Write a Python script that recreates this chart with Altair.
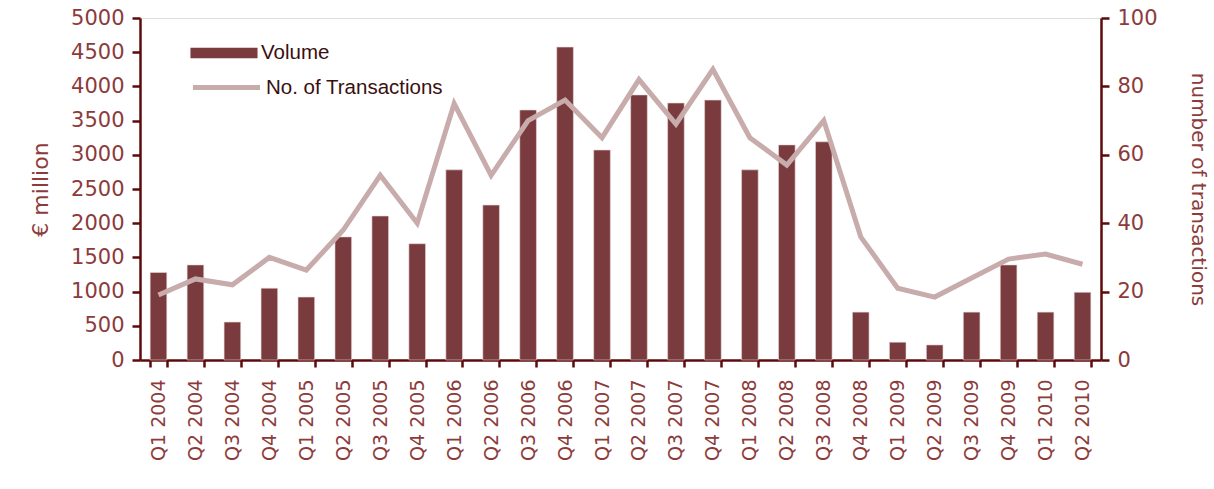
import altair as alt
import pandas as pd

quarters = ["Q1 2004","Q2 2004","Q3 2004","Q4 2004","Q1 2005","Q2 2005","Q3 2005","Q4 2005",
            "Q1 2006","Q2 2006","Q3 2006","Q4 2006","Q1 2007","Q2 2007","Q3 2007","Q4 2007",
            "Q1 2008","Q2 2008","Q3 2008","Q4 2008","Q1 2009","Q2 2009","Q3 2009","Q4 2009",
            "Q1 2010","Q2 2010"]
volume = [1280, 1390, 555, 1050, 920, 1800, 2105, 1700, 2780, 2265, 3655, 4575, 3070, 3875,
          3757, 3800, 2780, 3145, 3190, 700, 260, 220, 700, 1390, 700, 990]
transactions = [19, 23.7, 22, 30, 26.3, 38, 54, 40, 75, 54, 70, 76, 65, 82, 69, 85, 65, 57, 70,
                36, 21, 18.4, 24, 29.5, 31, 28]

df = pd.DataFrame({"q": quarters, "vol": volume, "tx": transactions})

AX = "#5C0A0A"
TXT = "#8C3B3B"
FONT = "DejaVu Sans"

xenc = alt.X("q:N", sort=quarters, title=None,
             scale=alt.Scale(paddingInner=0.55, paddingOuter=0.275),
             axis=alt.Axis(labelAngle=-90, labelFontSize=19, labelColor=TXT, labelFont=FONT,
                           domainColor=AX, domainWidth=2.5, tickColor=AX, tickWidth=2.5,
                           tickSize=7, tickBand="extent", labelPadding=12, labelBaseline="middle"))

bars = alt.Chart(df).mark_bar(stroke="#E8D8D8", strokeWidth=0.6).encode(
    x=xenc,
    y=alt.Y("vol:Q", title="€ million",
            scale=alt.Scale(domain=[0, 5000], nice=False),
            axis=alt.Axis(values=list(range(0, 5001, 500)), format="d", grid=False,
                          labelFontSize=21, labelColor=TXT, labelFont=FONT, titleColor=TXT,
                          titleFont=FONT, titleFontSize=22, titleFontWeight="normal",
                          titlePadding=18, domainColor=AX, domainWidth=2.5, tickColor=AX,
                          tickWidth=2.5, tickSize=8, labelPadding=8)),
    fill=alt.Fill("s1:N", scale=alt.Scale(domain=["Volume"], range=["#7A3B3E"]),
                  legend=alt.Legend(title=None, orient="none", legendX=50, legendY=1,
                                    symbolType="M-1,-0.16H1V0.16H-1Z", symbolSize=4500,
                                    symbolStrokeWidth=0, labelFontSize=20.5, labelLimit=0,
                                    labelFont="Liberation Sans", labelColor="#3A1010",
                                    labelOffset=3))
).transform_calculate(s1="'Volume'")

line = alt.Chart(df).mark_line(strokeWidth=5, color="#C8ABAB").encode(
    x=alt.X("q:N", sort=quarters),
    y=alt.Y("tx:Q", title="number of transactions",
            scale=alt.Scale(domain=[0, 100], nice=False),
            axis=alt.Axis(orient="right", values=list(range(0, 101, 20)), grid=False,
                          labelFontSize=21, labelColor=TXT, labelFont=FONT, titleColor=TXT,
                          titleFont=FONT, titleFontSize=20, titleFontWeight="normal",
                          titlePadding=30, domainColor=AX, domainWidth=2.5, tickColor=AX,
                          tickWidth=2.5, tickSize=8, labelPadding=8)),
    stroke=alt.Stroke("s2:N", scale=alt.Scale(domain=["No. of Transactions"], range=["#C8ABAB"]),
                      legend=alt.Legend(title=None, orient="none", legendX=50, legendY=33,
                                        symbolType="stroke", symbolSize=4500, symbolStrokeWidth=5,
                                        labelFontSize=20.5, labelLimit=0, labelFont="Liberation Sans",
                                        labelColor="#3A1010", labelOffset=3))
).transform_calculate(s2="'No. of Transactions'")

chart = alt.layer(bars, line).resolve_scale(y="independent", fill="independent",
                                            stroke="independent").properties(
    width=961, height=342,
    autosize=alt.AutoSizeParams(type="none"),
    padding={"left": 140, "top": 18, "right": 113, "bottom": 129},
).configure_view(stroke=AX, strokeWidth=2.5).configure(background="white")

chart.save("out.html", embed_options={"renderer": "svg", "actions": False})
